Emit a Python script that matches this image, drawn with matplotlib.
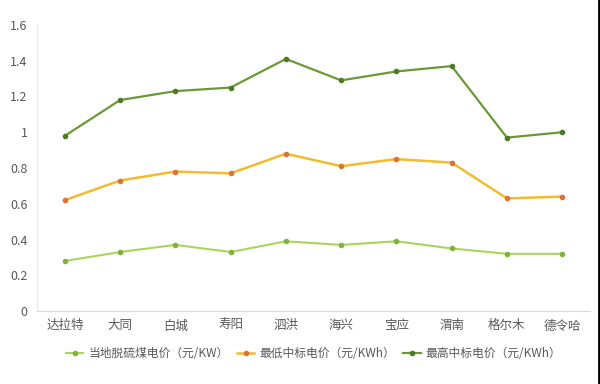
import matplotlib
matplotlib.use("Agg")
import matplotlib.pyplot as plt
from matplotlib.lines import Line2D

plt.rcParams['font.family'] = ['Noto Sans CJK SC', 'DejaVu Sans']

# data
cities = ["达拉特", "大同", "白城", "寿阳", "泗洪", "海兴", "宝应", "渭南", "格尔木", "德令哈"]
coal_price = [0.28, 0.33, 0.37, 0.33, 0.39, 0.37, 0.39, 0.35, 0.32, 0.32]
low_bid = [0.62, 0.73, 0.78, 0.77, 0.88, 0.81, 0.85, 0.83, 0.63, 0.64]
high_bid = [0.98, 1.18, 1.23, 1.25, 1.41, 1.29, 1.34, 1.37, 0.97, 1.00]
series_names = ["当地脱硫煤电价（元/KW）", "最低中标电价（元/KWh）", "最高中标电价（元/KWh）"]
yticks = [0, 0.2, 0.4, 0.6, 0.8, 1, 1.2, 1.4, 1.6]
ytick_labels = ["0", "0.2", "0.4", "0.6", "0.8", "1", "1.2", "1.4", "1.6"]

fig = plt.figure(figsize=(6, 3.84), dpi=100)
ax = fig.add_axes([0.062, 0.19, 0.921, 0.745])

x = list(range(len(cities)))
ax.plot(x, coal_price, color='#a9d65a', lw=1.5, marker='o', ms=3,
        mfc='#7fb339', mec='#7fb339', label=series_names[0])
ax.plot(x, low_bid, color='#f2bc2e', lw=1.8, marker='o', ms=3,
        mfc='#d9743a', mec='#d9743a', label=series_names[1])
ax.plot(x, high_bid, color='#6a9a35', lw=1.6, marker='o', ms=3,
        mfc='#4e7a25', mec='#4e7a25', label=series_names[2])

ax.set_xlim(-0.5, 9.5)
ax.set_ylim(0, 1.6)
ax.set_yticks(yticks)
ax.set_yticklabels(ytick_labels)
ax.set_xticks(x)
ax.set_xticklabels(cities)
ax.tick_params(axis='both', length=0, labelsize=9, colors='#595959')
ax.tick_params(axis='x', pad=6)
ax.tick_params(axis='y', pad=7)

for s in ['top', 'right']:
    ax.spines[s].set_visible(False)
ax.spines['left'].set_color('#e6e6e6')
ax.spines['bottom'].set_color('#d9d9d9')

leg = ax.legend(loc='upper center', bbox_to_anchor=(0.5, -0.09), ncol=3,
                frameon=False, fontsize=8.5, handlelength=1.5, columnspacing=0.7,
                handletextpad=0.4)
for t in leg.get_texts():
    t.set_color('#595959')

# right border line
fig.add_artist(Line2D([0.9975, 0.9975], [0, 1], transform=fig.transFigure,
                      color='black', lw=2))

fig.savefig("out.png", dpi=100)
